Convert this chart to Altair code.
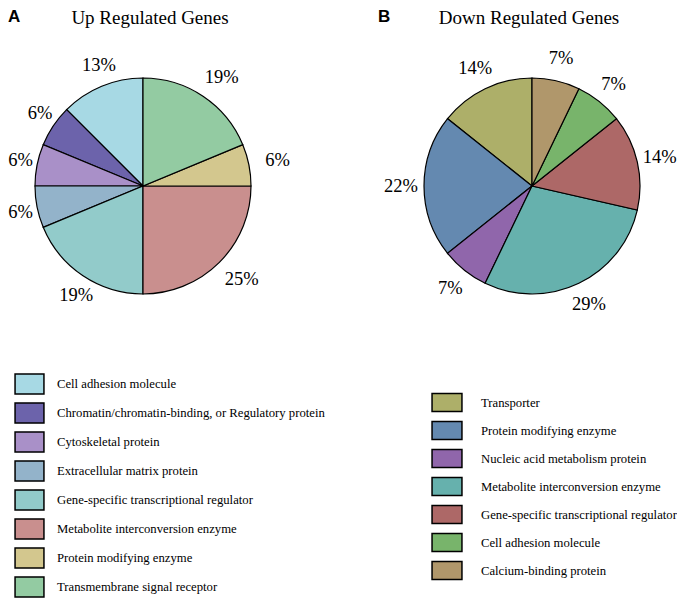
import altair as alt
import pandas as pd

up_title = "Up Regulated Genes"
up_categories = [
    "Cell adhesion molecule",
    "Chromatin/chromatin-binding, or Regulatory protein",
    "Cytoskeletal protein",
    "Extracellular matrix protein",
    "Gene-specific transcriptional regulator",
    "Metabolite interconversion enzyme",
    "Protein modifying enzyme",
    "Transmembrane signal receptor",
]
up_counts = [2, 1, 1, 1, 3, 4, 1, 3]
up_labels = ["13%", "6%", "6%", "6%", "19%", "25%", "6%", "19%"]
up_colors = ["#a7d9e4", "#6c63ab", "#a990c8", "#93b3ca", "#92cbca", "#c98f8e", "#d3c78e", "#93cba2"]

down_title = "Down Regulated Genes"
down_categories = [
    "Transporter",
    "Protein modifying enzyme",
    "Nucleic acid metabolism protein",
    "Metabolite interconversion enzyme",
    "Gene-specific transcriptional regulator",
    "Cell adhesion molecule",
    "Calcium-binding protein",
]
down_counts = [2, 3, 1, 4, 2, 1, 1]
down_labels = ["14%", "22%", "7%", "29%", "14%", "7%", "7%"]
down_colors = ["#adaf69", "#6489b0", "#9066ab", "#66b1ad", "#ad6867", "#78b46b", "#b0976b"]

SERIF = "Liberation Serif"
RECT_A = "M-1,-0.7L1,-0.7L1,0.7L-1,0.7Z"
RECT_B = "M-1.08,-0.65L1.08,-0.65L1.08,0.65L-1.08,0.65Z"
W, H = 270, 354


def panel(cats, counts, labels, colors, title, title_x, letter, letter_x,
          lx, ly, loff, sym, symsize, label_dx):
    n = len(cats)
    df = pd.DataFrame({
        "category": cats,
        "count": counts,
        "label": labels,
        "slice_order": list(range(n - 1, -1, -1)),
    })
    base = alt.Chart(df).encode(
        theta=alt.Theta("count:Q", stack=True),
        order=alt.Order("slice_order:Q"),
    )
    arcs = base.mark_arc(outerRadius=108, stroke="black", strokeWidth=1.2).encode(
        color=alt.Color(
            "category:N",
            scale=alt.Scale(domain=cats, range=colors),
            legend=alt.Legend(
                title=None,
                orient="none",
                legendX=lx,
                legendY=ly,
                symbolType=sym,
                symbolSize=symsize,
                symbolStrokeColor="black",
                symbolStrokeWidth=1.5,
                symbolOpacity=1,
                labelFont=SERIF,
                labelFontSize=12.7,
                labelColor="black",
                labelOffset=loff,
                labelLimit=400,
                rowPadding=0,
                padding=0,
            ),
        )
    )
    texts = base.mark_text(radius=131, dx=label_dx, font=SERIF, fontSize=18.5, color="black").encode(
        text="label:N"
    )
    head = pd.DataFrame({"t": [title]})
    title_mark = alt.Chart(head).mark_text(
        font=SERIF, fontSize=19, align="center", baseline="top", color="black"
    ).encode(text="t:N", x=alt.value(title_x), y=alt.value(0))
    tag = pd.DataFrame({"t": [letter]})
    letter_mark = alt.Chart(tag).mark_text(
        font="Liberation Sans", fontWeight="bold", fontSize=17, align="left",
        baseline="top", color="black"
    ).encode(text="t:N", x=alt.value(letter_x), y=alt.value(0))
    return alt.layer(arcs, texts, title_mark, letter_mark).properties(width=W, height=H)


pA = panel(up_categories, up_counts, up_labels, up_colors, up_title, 142, "A", 0,
           6, 359.5, 12, RECT_A, 835, 6)
pB = panel(down_categories, down_counts, down_labels, down_colors, down_title, 132, "B", -19,
           35, 378.5, 19, RECT_B, 767, 0)

chart = (
    alt.hconcat(pA, pB, spacing=119, bounds="flush")
    .resolve_scale(color="independent", theta="independent")
    .properties(padding=0)
    .configure_view(strokeWidth=0)
)

chart.save("out.html", embed_options={"renderer": "svg", "actions": False})
